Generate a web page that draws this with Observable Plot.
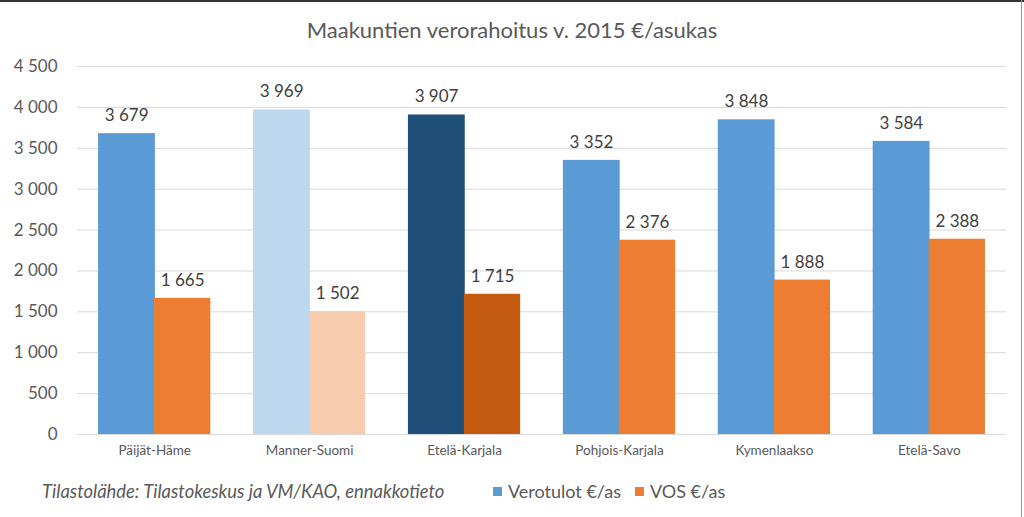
<!DOCTYPE html>
<html><head><meta charset="utf-8">
<script src="https://cdn.jsdelivr.net/npm/d3@7"></script>
<script src="https://cdn.jsdelivr.net/npm/@observablehq/plot@0.6"></script>
<style>
html,body{margin:0;padding:0;background:#fff;}
#wrap{position:relative;width:1024px;height:517px;overflow:hidden;font-family:Lato,"Noto Sans",sans-serif;box-sizing:border-box;}
#frameTop{position:absolute;left:0;top:0;width:1024px;height:2px;background:#333;}
#frameRight{position:absolute;left:1021px;top:0;width:1px;height:517px;background:#9a9a9a;}
#title{position:absolute;left:0;top:0;width:1024px;height:50px;text-align:center;line-height:60px;font-size:22px;color:#595959;}
#chart{position:absolute;left:0;top:50px;}
#caption{position:absolute;left:42px;top:480px;font-size:18.4px;font-style:italic;color:#595959;white-space:nowrap;}
#legend{position:absolute;left:493px;top:480px;font-size:18px;color:#595959;white-space:nowrap;display:flex;align-items:center;}
#legend .sw{display:inline-block;width:9px;height:9px;margin-right:6px;}
#legend .it{display:flex;align-items:center;margin-right:14px;}
</style></head>
<body><div id="wrap">
<div id="frameTop"></div><div id="frameRight"></div>
<div id="title">Maakuntien verorahoitus v. 2015 €/asukas</div>
<div id="chart"></div>
<div id="caption">Tilastolähde: Tilastokeskus ja VM/KAO, ennakkotieto</div>
<div id="legend"></div>
</div>
<script>
const categories = ["Päijät-Häme","Manner-Suomi","Etelä-Karjala","Pohjois-Karjala","Kymenlaakso","Etelä-Savo"];
const verotulot = [3679, 3969, 3907, 3352, 3848, 3584];
const vos = [1665, 1502, 1715, 2376, 1888, 2388];
const seriesNames = ["Verotulot €/as", "VOS €/as"];
const yTicks = [0,500,1000,1500,2000,2500,3000,3500,4000,4500];

// styling
const baseColors = ["#5B9BD5", "#ED7D31"];
const specialColors = {
  "Manner-Suomi": ["#BDD7EE", "#F8CBAD"],
  "Etelä-Karjala": ["#1F4E79", "#C55A11"]
};
const colorOf = (cat, s) => (specialColors[cat] || baseColors)[s];

const loc = d3.formatLocale({decimal: ",", thousands: " ", grouping: [3], currency: ["", "€"]});
const fmt = loc.format(",d");

const rows = [];
categories.forEach((c, i) => {
  rows.push({cat: c, s: 0, v: verotulot[i]});
  rows.push({cat: c, s: 1, v: vos[i]});
});
const r0 = rows.filter(d => d.s === 0), r1 = rows.filter(d => d.s === 1);
const half = 56;

const chart = Plot.plot({
  width: 1024, height: 420,
  marginTop: 16, marginBottom: 36, marginLeft: 77, marginRight: 18,
  style: {fontFamily: "Lato, 'Noto Sans', sans-serif", background: "transparent"},
  x: {domain: categories, round: false, paddingInner: 0.2756, paddingOuter: 0.136, label: null, tickSize: 0, tickPadding: 11},
  y: {domain: [0, 4500], ticks: yTicks, tickFormat: fmt, label: null, tickSize: 0, tickPadding: 20},
  marks: [
    Plot.ruleY(yTicks, {stroke: "#D9D9D9", strokeWidth: 1}),
    Plot.barY(r0, {x: "cat", y: "v", fill: d => colorOf(d.cat, 0), insetRight: half - 0.6}),
    Plot.barY(r1, {x: "cat", y: "v", fill: d => colorOf(d.cat, 1), insetLeft: half}),
    Plot.text(r0, {x: "cat", y: "v", text: d => fmt(d.v), dx: -half/2, dy: -18, fontSize: 17, fill: "#404040"}),
    Plot.text(r1, {x: "cat", y: "v", text: d => fmt(d.v), dx: half/2, dy: -18, fontSize: 17, fill: "#404040"})
  ]
});
chart.querySelectorAll('g[aria-label="y-axis tick label"]').forEach(g => {
  g.setAttribute("font-size", "17"); g.setAttribute("fill", "#595959");
});
chart.querySelectorAll('g[aria-label="x-axis tick label"]').forEach(g => {
  g.setAttribute("font-size", "13.5"); g.setAttribute("fill", "#595959");
});
document.getElementById("chart").appendChild(chart);

const leg = document.getElementById("legend");
seriesNames.forEach((n, i) => {
  const it = document.createElement("span"); it.className = "it";
  const sw = document.createElement("span"); sw.className = "sw"; sw.style.background = baseColors[i];
  it.appendChild(sw); it.appendChild(document.createTextNode(n));
  leg.appendChild(it);
});
</script>
</body></html>
